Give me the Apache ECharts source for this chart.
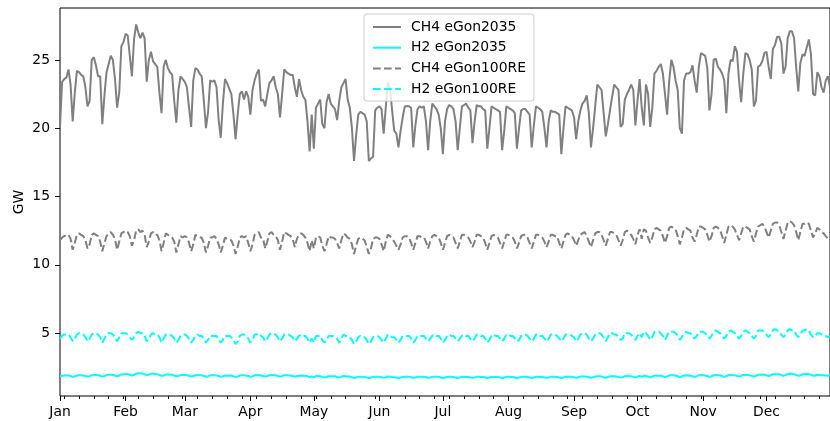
<!DOCTYPE html>
<html>
<head>
<meta charset="utf-8">
<script src="https://cdn.jsdelivr.net/npm/echarts@6/dist/echarts.min.js"></script>
<style>
  html, body { margin: 0; padding: 0; background: #ffffff; }
  #chart { width: 830px; height: 421px; }
</style>
</head>
<body>
<div id="chart"></div>
<script>
// month ticks (day of year) and labels
const monthLabels = ['Jan', 'Feb', 'Mar', 'Apr', 'May', 'Jun', 'Jul', 'Aug', 'Sep', 'Oct', 'Nov', 'Dec'];
const monthStarts = [0, 31, 59, 90, 120, 151, 181, 212, 243, 273, 304, 334];
const yTicks = [5, 10, 15, 20, 25];

// daily values in GW, one row per week
const ch4_2035 = [
  20.1, 23.4, 23.6, 23.7, 24.3, 23.2, 20.5,
  22.6, 24.2, 24.1, 23.9, 23.8, 23.0, 21.6,
  22.0, 25.0, 25.2, 24.6, 23.8, 23.8, 20.3,
  22.4, 24.1, 24.7, 25.3, 25.0, 23.6, 21.5,
  22.6, 26.0, 26.3, 26.9, 26.8, 25.3, 23.8,
  26.5, 27.6, 27.0, 26.6, 27.0, 26.6, 23.4,
  25.0, 25.6, 24.9, 24.7, 24.5, 22.6, 21.1,
  24.5, 25.0, 24.4, 24.1, 23.9, 22.0, 20.4,
  22.8, 23.8, 23.6, 23.4, 23.0, 21.5, 20.1,
  23.5, 24.4, 24.3, 24.0, 23.8, 22.0, 20.0,
  21.2, 23.5, 23.4, 23.5, 23.0, 20.6, 19.3,
  21.8, 23.6, 23.3, 22.9, 22.5, 21.0, 19.2,
  21.0, 22.5, 22.7, 22.1, 22.7, 22.3, 21.0,
  22.8, 23.5, 24.0, 24.3, 22.0, 22.1, 21.6,
  22.5, 23.3, 23.5, 23.8, 23.0, 22.5, 20.8,
  22.5, 24.3, 24.1, 24.0, 23.9, 23.9, 23.0,
  22.3, 23.6, 22.8, 22.3, 22.1, 20.5, 18.3,
  21.0, 18.5, 21.5, 21.8, 22.1, 20.3, 20.0,
  21.9, 22.5, 21.8, 21.6, 21.4, 20.6, 22.0,
  23.0, 23.3, 23.6, 22.1, 21.5, 20.0, 17.6,
  19.5, 21.0, 21.2, 21.1, 21.0, 20.5, 17.6,
  17.8, 17.9, 21.3, 21.5, 21.6, 21.4, 19.6,
  21.5, 23.4, 22.9, 21.3, 19.8, 19.6, 18.6,
  19.8, 20.8, 21.6, 21.6, 21.6, 21.5, 18.6,
  20.2, 21.4, 21.6, 21.5, 21.6, 20.5, 18.4,
  20.5, 21.8, 21.6, 21.4, 21.0, 20.0, 18.1,
  20.5, 21.4, 21.7, 21.6, 21.4, 20.5, 18.4,
  20.0, 21.6, 21.7, 21.8, 21.5, 21.3, 18.9,
  20.5, 21.7, 21.6, 21.6, 21.4, 21.3, 18.5,
  20.0, 21.6, 21.5, 21.4, 21.3, 21.2, 18.4,
  19.8, 21.6, 21.5, 21.4, 21.3, 21.1, 18.5,
  20.0, 21.3, 21.4, 21.4, 21.2, 21.0, 18.6,
  20.2, 21.6, 21.5, 21.4, 21.2, 20.0, 18.6,
  20.5, 21.3, 21.2, 21.2, 21.1, 21.0, 18.1,
  20.0, 21.6, 21.5, 21.4, 21.3, 20.8, 19.2,
  20.5, 21.3, 21.8, 22.0, 22.4, 21.1, 18.6,
  20.0, 21.6, 23.2, 23.0, 22.8, 21.1, 19.4,
  20.3, 21.3, 22.3, 23.2, 23.0, 22.8, 20.1,
  20.3, 22.1, 22.5, 22.8, 23.2, 22.8, 20.2,
  22.0, 23.6, 21.5, 20.2, 23.2, 22.5, 20.1,
  21.5, 24.0, 24.2, 24.5, 24.7, 24.0, 22.5,
  21.0, 23.5, 25.0, 24.5, 23.5, 22.8, 20.0,
  19.6, 23.5, 24.0, 24.0, 24.1, 24.6, 23.5,
  22.6, 24.5, 25.5, 25.4, 25.3, 24.4, 21.3,
  22.5, 25.0, 25.1, 24.5, 24.3, 24.0, 23.5,
  21.1, 24.0, 25.0, 24.9, 26.0, 25.6, 23.5,
  21.9, 24.0, 25.5, 25.4, 25.0, 24.3, 21.6,
  22.0, 24.5, 24.6, 24.9, 25.5, 25.6, 24.5,
  23.6, 25.8, 26.1, 26.7, 26.7, 26.2, 24.0,
  24.5, 26.6, 27.1, 27.1, 26.6, 24.5, 22.7,
  24.8, 25.4, 25.3, 25.9, 26.5, 25.4, 22.5,
  22.4, 24.1, 23.8, 23.0, 22.6, 23.5, 23.8,
  23.0
];

const h2_2035 = [
  1.85, 1.88, 1.90, 1.90, 1.90, 1.86, 1.80,
  1.84, 1.90, 1.92, 1.91, 1.90, 1.86, 1.82,
  1.85, 1.92, 1.94, 1.93, 1.92, 1.88, 1.82,
  1.86, 1.93, 1.95, 1.96, 1.94, 1.90, 1.84,
  1.90, 1.98, 2.00, 2.02, 2.00, 1.95, 1.90,
  1.95, 2.03, 2.06, 2.05, 2.04, 2.00, 1.93,
  1.96, 2.02, 2.03, 2.01, 2.00, 1.95, 1.88,
  1.90, 1.97, 1.97, 1.96, 1.95, 1.90, 1.84,
  1.87, 1.93, 1.93, 1.94, 1.92, 1.88, 1.82,
  1.86, 1.92, 1.92, 1.91, 1.91, 1.87, 1.81,
  1.85, 1.91, 1.91, 1.92, 1.90, 1.86, 1.80,
  1.84, 1.90, 1.89, 1.88, 1.88, 1.84, 1.78,
  1.82, 1.90, 1.91, 1.91, 1.90, 1.86, 1.80,
  1.84, 1.91, 1.92, 1.93, 1.90, 1.87, 1.82,
  1.86, 1.92, 1.93, 1.92, 1.91, 1.87, 1.82,
  1.86, 1.92, 1.91, 1.90, 1.90, 1.86, 1.82,
  1.86, 1.89, 1.90, 1.89, 1.88, 1.84, 1.78,
  1.83, 1.78, 1.86, 1.86, 1.85, 1.80, 1.76,
  1.80, 1.85, 1.85, 1.85, 1.84, 1.80, 1.76,
  1.80, 1.86, 1.85, 1.83, 1.82, 1.78, 1.72,
  1.76, 1.80, 1.81, 1.80, 1.80, 1.76, 1.72,
  1.75, 1.80, 1.81, 1.81, 1.80, 1.77, 1.73,
  1.78, 1.83, 1.81, 1.79, 1.78, 1.75, 1.72,
  1.75, 1.80, 1.81, 1.81, 1.80, 1.77, 1.73,
  1.76, 1.80, 1.81, 1.80, 1.80, 1.77, 1.73,
  1.76, 1.80, 1.81, 1.80, 1.80, 1.76, 1.72,
  1.75, 1.79, 1.80, 1.80, 1.79, 1.76, 1.72,
  1.75, 1.80, 1.80, 1.79, 1.79, 1.76, 1.73,
  1.76, 1.80, 1.80, 1.79, 1.79, 1.75, 1.72,
  1.75, 1.79, 1.80, 1.79, 1.79, 1.76, 1.72,
  1.75, 1.80, 1.80, 1.79, 1.79, 1.76, 1.72,
  1.75, 1.79, 1.80, 1.80, 1.79, 1.76, 1.72,
  1.75, 1.80, 1.80, 1.79, 1.79, 1.76, 1.73,
  1.76, 1.80, 1.80, 1.80, 1.79, 1.76, 1.72,
  1.76, 1.81, 1.81, 1.81, 1.80, 1.77, 1.74,
  1.77, 1.82, 1.83, 1.83, 1.81, 1.77, 1.73,
  1.78, 1.83, 1.84, 1.84, 1.82, 1.78, 1.74,
  1.79, 1.84, 1.85, 1.84, 1.83, 1.79, 1.75,
  1.79, 1.85, 1.86, 1.85, 1.84, 1.80, 1.76,
  1.82, 1.87, 1.80, 1.88, 1.87, 1.82, 1.77,
  1.82, 1.89, 1.90, 1.89, 1.88, 1.84, 1.78,
  1.84, 1.91, 1.92, 1.91, 1.90, 1.85, 1.78,
  1.83, 1.90, 1.91, 1.90, 1.89, 1.84, 1.80,
  1.85, 1.92, 1.92, 1.91, 1.90, 1.86, 1.80,
  1.85, 1.92, 1.93, 1.92, 1.91, 1.86, 1.80,
  1.86, 1.93, 1.94, 1.93, 1.92, 1.87, 1.82,
  1.87, 1.94, 1.94, 1.93, 1.92, 1.87, 1.82,
  1.88, 1.95, 1.96, 1.97, 1.96, 1.91, 1.86,
  1.92, 1.99, 2.00, 2.00, 1.99, 1.93, 1.87,
  1.93, 2.01, 2.02, 2.01, 2.00, 1.94, 1.87,
  1.92, 1.99, 2.00, 2.01, 2.00, 1.95, 1.88,
  1.90, 1.95, 1.94, 1.92, 1.91, 1.90, 1.88,
  1.90
];

const ch4_100re = [
  11.8, 12.0, 12.1, 12.2, 12.2, 11.9, 11.1,
  11.6, 12.2, 12.3, 12.2, 12.1, 11.8, 11.2,
  11.5, 12.2, 12.3, 12.2, 12.1, 11.7, 11.0,
  11.6, 12.1, 12.3, 12.4, 12.2, 11.9, 11.1,
  11.7, 12.3, 12.4, 12.5, 12.4, 12.1, 11.4,
  11.8, 12.5, 12.6, 12.4, 12.5, 12.2, 11.3,
  11.7, 12.3, 12.4, 12.2, 12.2, 11.8, 11.0,
  11.6, 12.3, 12.2, 12.1, 12.0, 11.7, 10.9,
  11.5, 12.1, 12.0, 12.1, 12.0, 11.6, 11.0,
  11.5, 12.2, 12.1, 12.0, 12.0, 11.6, 10.9,
  11.4, 12.0, 12.0, 12.1, 11.9, 11.5, 10.9,
  11.4, 12.0, 11.9, 11.8, 11.8, 11.4, 10.8,
  11.3, 12.0, 12.1, 12.0, 12.1, 11.6, 11.0,
  11.5, 12.2, 12.3, 12.4, 12.0, 11.9, 11.2,
  11.7, 12.3, 12.4, 12.2, 12.1, 11.8, 11.1,
  11.7, 12.4, 12.3, 12.2, 12.1, 11.9, 11.3,
  11.9, 12.2, 12.3, 12.2, 12.0, 11.6, 11.0,
  11.8, 11.2, 12.0, 12.1, 12.0, 11.4, 11.0,
  11.5, 12.1, 12.0, 12.0, 11.9, 11.6, 11.2,
  11.8, 12.3, 12.2, 12.0, 11.9, 11.5, 10.8,
  11.4, 11.9, 12.0, 11.9, 11.8, 11.3, 10.8,
  11.2, 11.9, 12.0, 12.0, 11.9, 11.5, 11.0,
  11.7, 12.2, 12.1, 11.9, 11.7, 11.4, 11.1,
  11.5, 12.0, 12.1, 12.1, 12.0, 11.6, 11.1,
  11.6, 12.1, 12.1, 12.0, 12.0, 11.7, 11.2,
  11.7, 12.1, 12.2, 12.1, 12.0, 11.6, 11.1,
  11.6, 12.1, 12.2, 12.1, 12.0, 11.6, 11.2,
  11.7, 12.2, 12.2, 12.1, 12.0, 11.7, 11.3,
  11.7, 12.2, 12.2, 12.1, 12.0, 11.6, 11.1,
  11.6, 12.1, 12.2, 12.1, 12.0, 11.6, 11.2,
  11.7, 12.2, 12.2, 12.1, 12.0, 11.7, 11.2,
  11.6, 12.1, 12.2, 12.2, 12.0, 11.6, 11.2,
  11.7, 12.2, 12.2, 12.1, 12.0, 11.7, 11.3,
  11.7, 12.2, 12.2, 12.1, 12.1, 11.6, 11.2,
  11.7, 12.2, 12.3, 12.2, 12.1, 11.8, 11.4,
  11.8, 12.2, 12.3, 12.4, 12.1, 11.7, 11.3,
  11.8, 12.3, 12.4, 12.4, 12.2, 11.8, 11.4,
  11.9, 12.4, 12.4, 12.3, 12.2, 11.8, 11.4,
  11.8, 12.4, 12.5, 12.4, 12.2, 11.9, 11.5,
  12.2, 12.6, 11.9, 12.6, 12.5, 12.0, 11.6,
  12.0, 12.6, 12.7, 12.6, 12.5, 12.1, 11.6,
  12.1, 12.7, 12.8, 12.7, 12.6, 12.1, 11.5,
  12.0, 12.6, 12.7, 12.6, 12.5, 12.0, 11.7,
  12.2, 12.8, 12.8, 12.7, 12.6, 12.2, 11.7,
  12.1, 12.7, 12.8, 12.7, 12.6, 12.1, 11.6,
  12.2, 12.8, 12.9, 12.8, 12.6, 12.2, 11.8,
  12.3, 12.8, 12.8, 12.7, 12.6, 12.1, 11.7,
  12.3, 12.8, 12.9, 13.0, 12.8, 12.4, 12.0,
  12.5, 13.0, 13.1, 13.1, 12.9, 12.4, 11.9,
  12.5, 13.1, 13.2, 13.1, 12.9, 12.4, 11.8,
  12.4, 13.0, 13.0, 13.1, 13.0, 12.5, 12.0,
  12.3, 12.7, 12.6, 12.4, 12.3, 12.1, 11.9,
  12.1
];

const h2_100re = [
  4.6, 4.8, 4.9, 4.9, 4.9, 4.7, 4.4,
  4.6, 4.9, 5.0, 4.9, 4.9, 4.7, 4.4,
  4.6, 4.9, 5.0, 5.0, 4.9, 4.7, 4.3,
  4.6, 4.9, 5.0, 5.0, 4.9, 4.7, 4.4,
  4.7, 5.0, 5.0, 5.0, 4.9, 4.7, 4.5,
  4.7, 5.0, 5.1, 5.0, 5.0, 4.8, 4.4,
  4.6, 4.9, 5.0, 4.9, 4.9, 4.7, 4.3,
  4.6, 4.9, 4.9, 4.9, 4.8, 4.6, 4.3,
  4.5, 4.8, 4.9, 4.9, 4.8, 4.6, 4.3,
  4.5, 4.8, 4.9, 4.8, 4.8, 4.6, 4.3,
  4.5, 4.8, 4.8, 4.8, 4.8, 4.5, 4.3,
  4.5, 4.8, 4.8, 4.8, 4.7, 4.5, 4.2,
  4.4, 4.8, 4.9, 4.9, 4.8, 4.6, 4.3,
  4.5, 4.9, 4.9, 5.0, 4.8, 4.7, 4.4,
  4.6, 4.9, 5.0, 4.9, 4.9, 4.7, 4.4,
  4.6, 4.9, 4.9, 4.9, 4.8, 4.7, 4.4,
  4.6, 4.8, 4.9, 4.8, 4.8, 4.6, 4.3,
  4.6, 4.3, 4.8, 4.8, 4.8, 4.5, 4.3,
  4.5, 4.8, 4.8, 4.8, 4.7, 4.6, 4.3,
  4.6, 4.9, 4.8, 4.8, 4.7, 4.5, 4.2,
  4.4, 4.7, 4.8, 4.7, 4.7, 4.5, 4.2,
  4.4, 4.7, 4.8, 4.8, 4.7, 4.5, 4.3,
  4.6, 4.9, 4.8, 4.7, 4.7, 4.5, 4.3,
  4.5, 4.8, 4.8, 4.8, 4.8, 4.6, 4.3,
  4.5, 4.8, 4.8, 4.8, 4.8, 4.6, 4.4,
  4.6, 4.8, 4.9, 4.8, 4.8, 4.6, 4.3,
  4.5, 4.8, 4.9, 4.8, 4.8, 4.6, 4.4,
  4.6, 4.8, 4.9, 4.8, 4.8, 4.6, 4.4,
  4.6, 4.9, 4.9, 4.8, 4.8, 4.6, 4.3,
  4.5, 4.8, 4.9, 4.8, 4.8, 4.6, 4.4,
  4.6, 4.9, 4.9, 4.8, 4.8, 4.6, 4.4,
  4.5, 4.8, 4.9, 4.9, 4.8, 4.6, 4.4,
  4.6, 4.9, 4.9, 4.8, 4.8, 4.6, 4.4,
  4.6, 4.9, 4.9, 4.9, 4.8, 4.6, 4.4,
  4.6, 4.9, 4.9, 4.9, 4.8, 4.7, 4.4,
  4.6, 4.9, 5.0, 5.0, 4.9, 4.6, 4.4,
  4.6, 4.9, 5.0, 5.0, 4.9, 4.7, 4.4,
  4.7, 5.0, 5.0, 4.9, 4.9, 4.7, 4.5,
  4.6, 5.0, 5.0, 5.0, 4.9, 4.7, 4.5,
  4.8, 5.0, 4.7, 5.1, 5.0, 4.8, 4.5,
  4.7, 5.1, 5.1, 5.1, 5.0, 4.8, 4.5,
  4.8, 5.1, 5.1, 5.1, 5.0, 4.8, 4.5,
  4.7, 5.0, 5.1, 5.0, 5.0, 4.8, 4.6,
  4.8, 5.1, 5.1, 5.1, 5.0, 4.8, 4.6,
  4.8, 5.1, 5.2, 5.1, 5.0, 4.8, 4.6,
  4.8, 5.1, 5.2, 5.1, 5.0, 4.8, 4.6,
  4.8, 5.1, 5.2, 5.1, 5.0, 4.8, 4.6,
  4.8, 5.2, 5.2, 5.2, 5.1, 4.9, 4.7,
  4.9, 5.2, 5.3, 5.2, 5.1, 4.9, 4.7,
  4.9, 5.2, 5.3, 5.2, 5.2, 4.9, 4.7,
  4.9, 5.2, 5.2, 5.3, 5.2, 4.9, 4.7,
  4.8, 5.0, 5.0, 4.9, 4.9, 4.8, 4.7,
  4.8
];

const FONT = 'DejaVu Sans';
const GREY = '#808080';
const CYAN = '#00ffff';
const DASH = [7.7, 3.3];

// weekly minor ticks (Mondays), skipping month starts
const weekTicks = [];
for (let d = 2; d < 365; d += 7) {
  if (monthStarts.indexOf(d) < 0) weekTicks.push(d);
}

const toPoints = arr => arr.map((v, i) => [i, v]);

const chart = echarts.init(document.getElementById('chart'));

const lineSeries = (name, data, color, dashed) => ({
  name: name,
  type: 'line',
  data: toPoints(data),
  symbol: 'none',
  showSymbol: false,
  silent: true,
  xAxisIndex: 0,
  yAxisIndex: 0,
  itemStyle: { color: color },
  lineStyle: { color: color, width: 2, type: dashed ? DASH : 'solid' },
  emphasis: { disabled: true }
});

chart.setOption({
  animation: false,
  backgroundColor: '#ffffff',
  grid: {
    left: 60,
    top: 8,
    width: 779,
    height: 388,
    show: true,
    borderColor: '#000000',
    borderWidth: 1,
    backgroundColor: 'transparent'
  },
  legend: {
    orient: 'vertical',
    left: 364,
    top: 14,
    itemWidth: 28,
    itemHeight: 14,
    itemGap: 6.7,
    padding: [6, 8, 5, 8],
    backgroundColor: 'rgba(255,255,255,0.8)',
    borderColor: '#cccccc',
    borderWidth: 1,
    borderRadius: 3,
    selectedMode: false,
    // hide the marker symbol, keep only the line
    itemStyle: { opacity: 0 },
    textStyle: {
      fontFamily: FONT,
      fontSize: 13.9,
      color: '#000000',
      padding: [0, 0, 0, 5]
    },
    data: ['CH4 eGon2035', 'H2 eGon2035', 'CH4 eGon100RE', 'H2 eGon100RE']
  },
  xAxis: [
    {
      type: 'value',
      min: 0,
      max: 364,
      position: 'bottom',
      axisLine: { show: false },
      splitLine: { show: false },
      axisTick: {
        show: true,
        length: 5,
        customValues: monthStarts,
        lineStyle: { color: '#000000', width: 1 }
      },
      axisLabel: {
        customValues: monthStarts,
        formatter: v => monthLabels[monthStarts.indexOf(v)],
        fontFamily: FONT,
        fontSize: 13.9,
        color: '#000000',
        margin: 9
      }
    },
    {
      type: 'value',
      min: 0,
      max: 364,
      position: 'bottom',
      axisLine: { show: false },
      splitLine: { show: false },
      axisTick: {
        show: true,
        length: 3,
        customValues: weekTicks,
        lineStyle: { color: '#000000', width: 1 }
      },
      axisLabel: { show: false }
    }
  ],
  yAxis: {
    type: 'value',
    min: 0.4,
    max: 28.8,
    name: 'GW',
    nameLocation: 'middle',
    nameGap: 34,
    nameMoveOverlap: false,
    nameTextStyle: { fontFamily: FONT, fontSize: 13.9, color: '#000000' },
    axisLine: { show: false },
    splitLine: { show: false },
    axisTick: {
      show: true,
      length: 5,
      customValues: yTicks,
      lineStyle: { color: '#000000', width: 1 }
    },
    axisLabel: {
      customValues: yTicks,
      fontFamily: FONT,
      fontSize: 13.9,
      color: '#000000',
      margin: 10
    }
  },
  series: [
    lineSeries('CH4 eGon2035', ch4_2035, GREY, false),
    lineSeries('H2 eGon2035', h2_2035, CYAN, false),
    lineSeries('CH4 eGon100RE', ch4_100re, GREY, true),
    lineSeries('H2 eGon100RE', h2_100re, CYAN, true)
  ]
});
</script>
</body>
</html>
